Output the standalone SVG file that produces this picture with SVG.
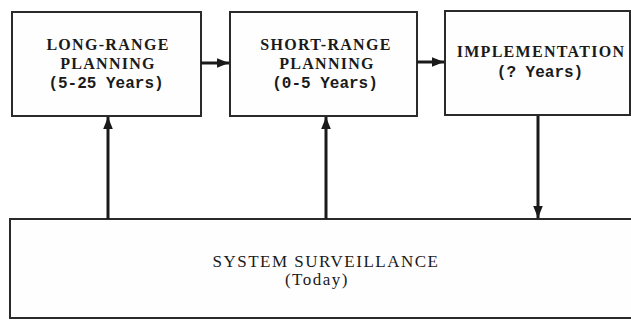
<svg xmlns="http://www.w3.org/2000/svg" width="631" height="322" viewBox="0 0 631 322">
<style>
.box{fill:#fefefe;stroke:#2a2a2a;stroke-width:2}
.cap{font-family:"Liberation Serif","Times New Roman",serif;font-weight:bold;font-size:16px;letter-spacing:1.3px;fill:#1a1a1a;text-anchor:middle}
.yr{font-family:"Liberation Mono","Courier New",monospace;font-weight:bold;font-size:16px;fill:#1a1a1a;text-anchor:middle}
.reg{font-family:"Liberation Serif","Times New Roman",serif;font-size:17px;letter-spacing:1.5px;fill:#1a1a1a;text-anchor:middle}
.con{stroke:#1a1a1a;stroke-width:3;fill:none}
</style>
<defs>
<marker id="ah" viewBox="0 0 10 10" refX="10" refY="5" markerWidth="4" markerHeight="4" orient="auto" markerUnits="strokeWidth">
<path d="M0,1 L10,5 L0,9 z" fill="#1a1a1a"/>
</marker>
</defs>
<rect width="631" height="322" fill="#ffffff"/>
<g id="long-range">
<rect class="box" x="12" y="12" width="189" height="104"/>
<text class="cap" x="108" y="50">LONG-RANGE</text>
<text class="cap" x="108" y="69">PLANNING</text>
<text class="yr" x="106" y="88">(5-25 Years)</text>
</g>
<g id="short-range">
<rect class="box" x="230" y="12" width="187" height="104"/>
<text class="cap" x="326" y="50">SHORT-RANGE</text>
<text class="cap" x="327" y="69">PLANNING</text>
<text class="yr" x="325" y="88">(0-5 Years)</text>
</g>
<g id="implementation">
<rect class="box" x="445" y="11" width="185" height="104"/>
<text class="cap" x="541" y="57">IMPLEMENTATION</text>
<text class="yr" x="540" y="77">(? Years)</text>
</g>
<g id="surveillance">
<rect class="box" x="10" y="219" width="640" height="99"/>
<text class="reg" x="326" y="267">SYSTEM SURVEILLANCE</text>
<text class="reg" x="317" y="285">(Today)</text>
</g>
<g id="connectors">
<line class="con" x1="201" y1="63" x2="229" y2="63" marker-end="url(#ah)"/>
<line class="con" x1="417" y1="62" x2="444" y2="62" marker-end="url(#ah)"/>
<line class="con" x1="108" y1="219" x2="108" y2="117" marker-end="url(#ah)"/>
<line class="con" x1="326" y1="219" x2="326" y2="117" marker-end="url(#ah)"/>
<line class="con" x1="538" y1="116" x2="538" y2="218" marker-end="url(#ah)"/>
</g>
</svg>
